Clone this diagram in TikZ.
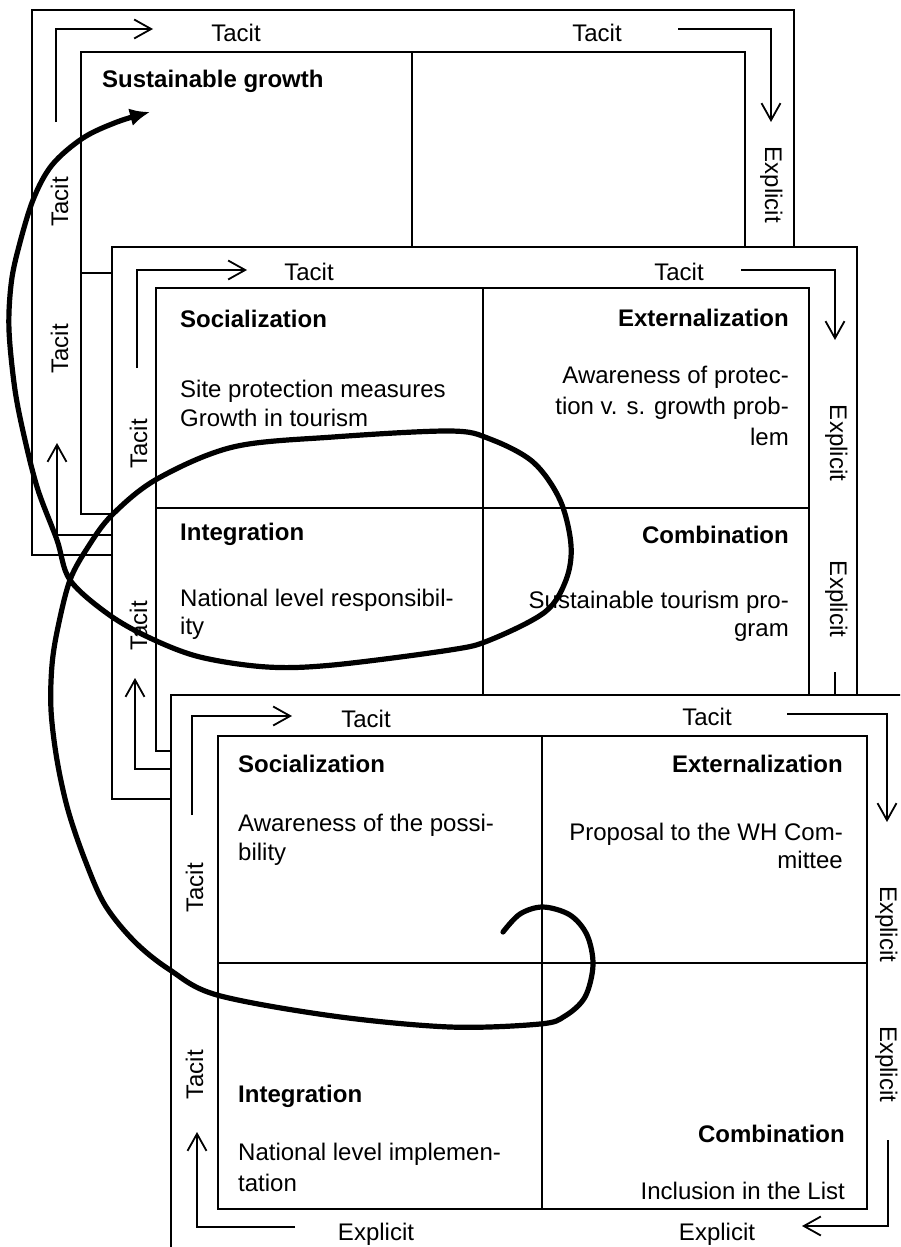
\documentclass[tikz,border=0pt]{standalone}
\usepackage{fontspec}
\setmainfont{Liberation Sans}
\usetikzlibrary{arrows.meta}
\begin{document}
\begin{tikzpicture}[x=1pt,y=-1pt,
  edge/.style={line width=1.8pt},
  panel/.style={edge, draw=black, fill=white},
  flow/.style={edge, -{Straight Barb[length=17pt,width=19pt]}},
  txt/.style={inner sep=0pt, font=\fontsize{24}{29}\selectfont},
  head/.style={inner sep=0pt, font=\fontsize{24}{29}\selectfont\bfseries},
  side/.style={txt, anchor=base},
  lft/.style={txt, anchor=base west},
  rgt/.style={txt, anchor=base east},
  spiral/.style={line width=5.2pt, line cap=round, line join=round,
    -{Latex[length=20pt,width=18pt]}}
]
\useasboundingbox (0,0) rectangle (900,1247);
\clip (0,0) rectangle (900,1247);

% ---------- back panel: sustainable growth ----------
\draw[panel] (32,10) rectangle (794,555);
\draw[edge] (81,52) rectangle (745,514);
\draw[edge] (412,52) -- (412,514);
\draw[edge] (81,273) -- (745,273);
\draw[flow] (56,122) |- (153,29);
\draw[flow] (678,29) -| (771,122);
\draw[flow] (150,535) -| (57,443);
\node[side] (a-top1) at (236,42) {Tacit};
\node[side] (a-top2) at (597,42) {Tacit};
\node[side, rotate=-90] (a-right1) at (765,185) {Explicit};
\node[side, rotate=90] (a-left1) at (68,202) {Tacit};
\node[side, rotate=90] (a-left2) at (68,349) {Tacit};
\node[head, anchor=base west] (a-title) at (102,88) {Sustainable growth};

% ---------- middle panel ----------
\draw[panel] (112,247) rectangle (857,799);
\draw[edge] (156,288) rectangle (809,751);
\draw[edge] (483,288) -- (483,751);
\draw[edge] (156,508) -- (809,508);
\draw[flow] (137,368) |- (247,270);
\draw[flow] (741,270) -| (835,340);
\draw[flow] (835,672) |- (740,769);
\draw[flow] (250,769) -| (135,678);
\node[side] (b-top1) at (309,280) {Tacit};
\node[side] (b-top2) at (679,280) {Tacit};
\node[side, rotate=-90] (b-right1) at (830,443) {Explicit};
\node[side, rotate=-90] (b-right2) at (830,599) {Explicit};
\node[side, rotate=90] (b-left1) at (147,444) {Tacit};
\node[side, rotate=90] (b-left2) at (147,626) {Tacit};

\node[head, anchor=base west] (b-soc) at (180,327) {Socialization};
\node[lft] (b-soc1) at (180,397) {Site protection measures};
\node[lft] (b-soc2) at (180,426) {Growth in tourism};
\node[head, anchor=base east] (b-ext) at (789,326) {Externalization};
\node[rgt] (b-ext1) at (789,383) {Awareness of protec-};
\node[rgt] (b-ext2) at (789,414) {tion v. s. growth prob-};
\node[rgt] (b-ext3) at (789,445) {lem};
\node[head, anchor=base west] (b-int) at (180,540) {Integration};
\node[lft] (b-int1) at (180,606) {National level responsibil-};
\node[lft] (b-int2) at (180,634) {ity};
\node[head, anchor=base east] (b-com) at (789,543) {Combination};
\node[rgt] (b-com1) at (789,608) {Sustainable tourism pro-};
\node[rgt] (b-com2) at (789,636) {gram};

% ---------- front panel ----------
\draw[panel] (171,695) rectangle (930,1280);
\draw[edge] (218,736) rectangle (867,1209);
\draw[edge] (542,736) -- (542,1209);
\draw[edge] (218,963) -- (867,963);
\draw[flow] (192,815) |- (292,716);
\draw[flow] (787,714) -| (887,822);
\draw[flow] (888,1140) |- (802,1226);
\draw[flow] (295,1227) -| (197,1132);
\node[side] (c-top1) at (366,727) {Tacit};
\node[side] (c-top2) at (707,725) {Tacit};
\node[side, rotate=-90] (c-right1) at (880,924) {Explicit};
\node[side, rotate=-90] (c-right2) at (880,1064) {Explicit};
\node[side, rotate=90] (c-left1) at (203,888) {Tacit};
\node[side, rotate=90] (c-left2) at (203,1075) {Tacit};
\node[side] (c-bot1) at (376,1240) {Explicit};
\node[side] (c-bot2) at (717,1240) {Explicit};

\node[head, anchor=base west] (c-soc) at (238,772) {Socialization};
\node[lft] (c-soc1) at (238,831) {Awareness of the possi-};
\node[lft] (c-soc2) at (238,860) {bility};
\node[head, anchor=base east] (c-ext) at (843,772) {Externalization};
\node[rgt] (c-ext1) at (843,840) {Proposal to the WH Com-};
\node[rgt] (c-ext2) at (843,868) {mittee};
\node[head, anchor=base west] (c-int) at (238,1102) {Integration};
\node[lft] (c-int1) at (238,1160) {National level implemen-};
\node[lft] (c-int2) at (238,1191) {tation};
\node[head, anchor=base east] (c-com) at (845,1142) {Combination};
\node[rgt] (c-com1) at (845,1199) {Inclusion in the List};

% ---------- knowledge spiral ----------
\draw[spiral] plot[smooth, tension=0.55] coordinates {
  (503,932) (520,914) (543,907) (570,915) (587,935) (593,965) (585,997)
  (565,1016) (540,1024) (450,1027) (333,1016) (217,995) (170,970)
  (135,942) (105,905) (85,860) (68,810) (57,760) (51,710) (52,665)
  (58,627) (70,580) (88,547) (112,515) (157,479) (233,447) (333,437)
  (450,431) (490,439) (533,462) (560,500) (571,545) (566,580) (545,612)
  (490,640) (450,650) (333,665) (267,667) (200,657) (150,638) (108,614)
  (70,580) (57,540) (38,490) (25,440) (15,390) (9,330) (11,285) (18,250)
  (33,200) (52,165) (83,138) (117,122) (150,112)};
\end{tikzpicture}
\end{document}
